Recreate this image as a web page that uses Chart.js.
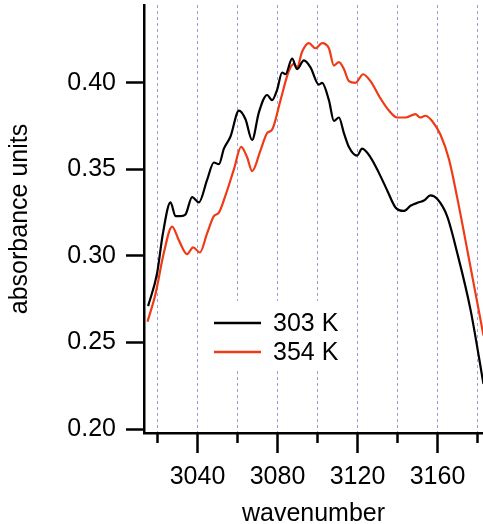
<!DOCTYPE html>
<html>
<head>
<meta charset="utf-8">
<script src="https://cdn.jsdelivr.net/npm/chart.js@4"></script>
<style>
  html, body { margin: 0; padding: 0; background: #fff; }
  canvas { display: block; }
</style>
</head>
<body>
<canvas id="chart" width="483" height="524"></canvas>
<script>
  // 303 K spectrum
  const wn303 = [3015.3, 3019.8, 3022.7, 3026.5, 3029, 3031.5, 3034, 3037.3, 3040.7, 3044.8,
    3048.2, 3050.7, 3053.2, 3056.5, 3060.7, 3064, 3067.3, 3070.7, 3074.8, 3077.3,
    3079.8, 3082.3, 3084, 3087.3, 3089.8, 3093.2, 3096.5, 3100.7, 3102.3, 3105.7,
    3108.2, 3110.7, 3113.2, 3115.7, 3119.8, 3122.3, 3126.5, 3130.7, 3134.8, 3139,
    3143.2, 3146.5, 3150.7, 3153.2, 3156.5, 3159.8, 3164.8, 3169.8, 3176.5, 3183];
  const abs303 = [0.271, 0.290, 0.313, 0.331, 0.323, 0.323, 0.324, 0.334, 0.331, 0.344,
    0.354, 0.353, 0.362, 0.369, 0.384, 0.379, 0.367, 0.383, 0.393, 0.390,
    0.396, 0.406, 0.405, 0.414, 0.408, 0.413, 0.409, 0.399, 0.400, 0.390,
    0.378, 0.380, 0.371, 0.363, 0.358, 0.362, 0.357, 0.348, 0.338, 0.328,
    0.326, 0.329, 0.331, 0.332, 0.335, 0.333, 0.323, 0.302, 0.269, 0.226];

  // 354 K spectrum
  const wn354 = [3015, 3019, 3023.2, 3027.3, 3030.7, 3034.8, 3037.8, 3041.2, 3044.8, 3048.2,
    3050.7, 3054, 3058.2, 3061.8, 3064.8, 3067.3, 3071.5, 3074.8, 3077.3, 3081.5,
    3085.7, 3088.2, 3089.8, 3092.3, 3095.7, 3099, 3102.3, 3105.7, 3108.2, 3110.7,
    3113.2, 3115.7, 3119, 3122.8, 3126.5, 3131.5, 3135.7, 3139.8, 3144, 3149,
    3151.2, 3154, 3157.3, 3161.5, 3165.7, 3169.8, 3174.8, 3183];
  const abs354 = [0.262, 0.278, 0.302, 0.317, 0.309, 0.301, 0.305, 0.302, 0.313, 0.323,
    0.325, 0.335, 0.350, 0.363, 0.357, 0.349, 0.361, 0.371, 0.373, 0.390,
    0.407, 0.411, 0.409, 0.418, 0.423, 0.420, 0.423, 0.420, 0.410, 0.412,
    0.408, 0.401, 0.400, 0.405, 0.401, 0.391, 0.384, 0.380, 0.380, 0.382,
    0.380, 0.381, 0.378, 0.370, 0.356, 0.334, 0.304, 0.254];

  const seriesLabels = ["303 K", "354 K"];
  const seriesColors = ["#000000", "#ef3a17"];
  const xTickMarks = [3020, 3040, 3060, 3080, 3100, 3120, 3140, 3160, 3180];

  const FONT = "'Liberation Sans', Arial, sans-serif";

  const toPoints = (xs, ys) => xs.map((x, i) => ({ x: x, y: ys[i] }));

  // legend box drawn inside the plot, on top of the grid
  const legendBox = {
    id: "legendBox",
    beforeDatasetsDraw(chart) {
      const ctx = chart.ctx;
      ctx.save();
      ctx.fillStyle = "#fff";
      ctx.fillRect(205, 301, 142, 67);
      chart.data.datasets.forEach((ds, i) => {
        const y = 323 + i * 29;
        ctx.strokeStyle = ds.borderColor;
        ctx.lineWidth = 2.5;
        ctx.beginPath();
        ctx.moveTo(214, y);
        ctx.lineTo(261, y);
        ctx.stroke();
        ctx.fillStyle = "#000";
        ctx.font = "25px " + FONT;
        ctx.textBaseline = "middle";
        ctx.textAlign = "left";
        ctx.fillText(ds.label, 273, y + 1);
      });
      ctx.restore();
    },
  };

  // x tick marks: long at multiples of 40, short in between
  const xTicks = {
    id: "xTicks",
    afterDraw(chart) {
      const ctx = chart.ctx;
      const sx = chart.scales.x;
      const bottom = chart.chartArea.bottom;
      ctx.save();
      ctx.strokeStyle = "#000";
      ctx.lineWidth = 2.5;
      xTickMarks.forEach((v) => {
        const px = sx.getPixelForValue(v);
        const len = v % 40 === 0 ? 20 : 10;
        ctx.beginPath();
        ctx.moveTo(px, bottom);
        ctx.lineTo(px, bottom + len);
        ctx.stroke();
      });
      ctx.restore();
    },
  };

  new Chart(document.getElementById("chart"), {
    type: "line",
    data: {
      datasets: [
        {
          label: seriesLabels[0],
          data: toPoints(wn303, abs303),
          borderColor: seriesColors[0],
          borderWidth: 2.2,
          pointRadius: 0,
          cubicInterpolationMode: "monotone",
        },
        {
          label: seriesLabels[1],
          data: toPoints(wn354, abs354),
          borderColor: seriesColors[1],
          borderWidth: 2.2,
          pointRadius: 0,
          cubicInterpolationMode: "monotone",
        },
      ],
    },
    options: {
      responsive: false,
      animation: false,
      layout: { padding: { top: 5, left: 0, right: 0, bottom: 0 } },
      plugins: {
        legend: { display: false },
        tooltip: { enabled: false },
      },
      scales: {
        x: {
          type: "linear",
          min: 3013.25,
          max: 3182.75,
          afterFit: (s) => {
            s.height = 91;
            s.paddingLeft = 0;
            s.paddingRight = 0;
          },
          ticks: {
            stepSize: 20,
            maxTicksLimit: 30,
            includeBounds: false,
            autoSkip: false,
            maxRotation: 0,
            padding: 29,
            color: "#000",
            font: { family: FONT, size: 25 },
            callback: (v) => (v % 40 === 0 ? String(v) : ""),
          },
          grid: {
            color: "#9c9ce4",
            lineWidth: 1,
            drawTicks: false,
          },
          border: { display: true, color: "#000", width: 2.5, dash: [3, 3] },
          title: {
            display: true,
            text: "wavenumber",
            color: "#000",
            font: { family: FONT, size: 25, lineHeight: 0.8 },
            padding: 0,
          },
        },
        y: {
          min: 0.1977,
          max: 0.445,
          afterFit: (s) => {
            s.width = 144;
            s.paddingTop = 0;
            s.paddingBottom = 0;
          },
          ticks: {
            stepSize: 0.05,
            includeBounds: false,
            padding: 10,
            color: "#000",
            font: { family: FONT, size: 25 },
            callback: (v) => v.toFixed(2),
          },
          grid: {
            drawOnChartArea: false,
            drawTicks: true,
            tickLength: 18,
            tickColor: "#000",
            tickWidth: 2.5,
          },
          border: { display: true, color: "#000", width: 2.5 },
          title: {
            display: true,
            text: "absorbance units",
            color: "#000",
            font: { family: FONT, size: 25 },
            padding: { top: 5, bottom: 0 },
          },
        },
      },
    },
    plugins: [legendBox, xTicks],
  });
</script>
</body>
</html>
